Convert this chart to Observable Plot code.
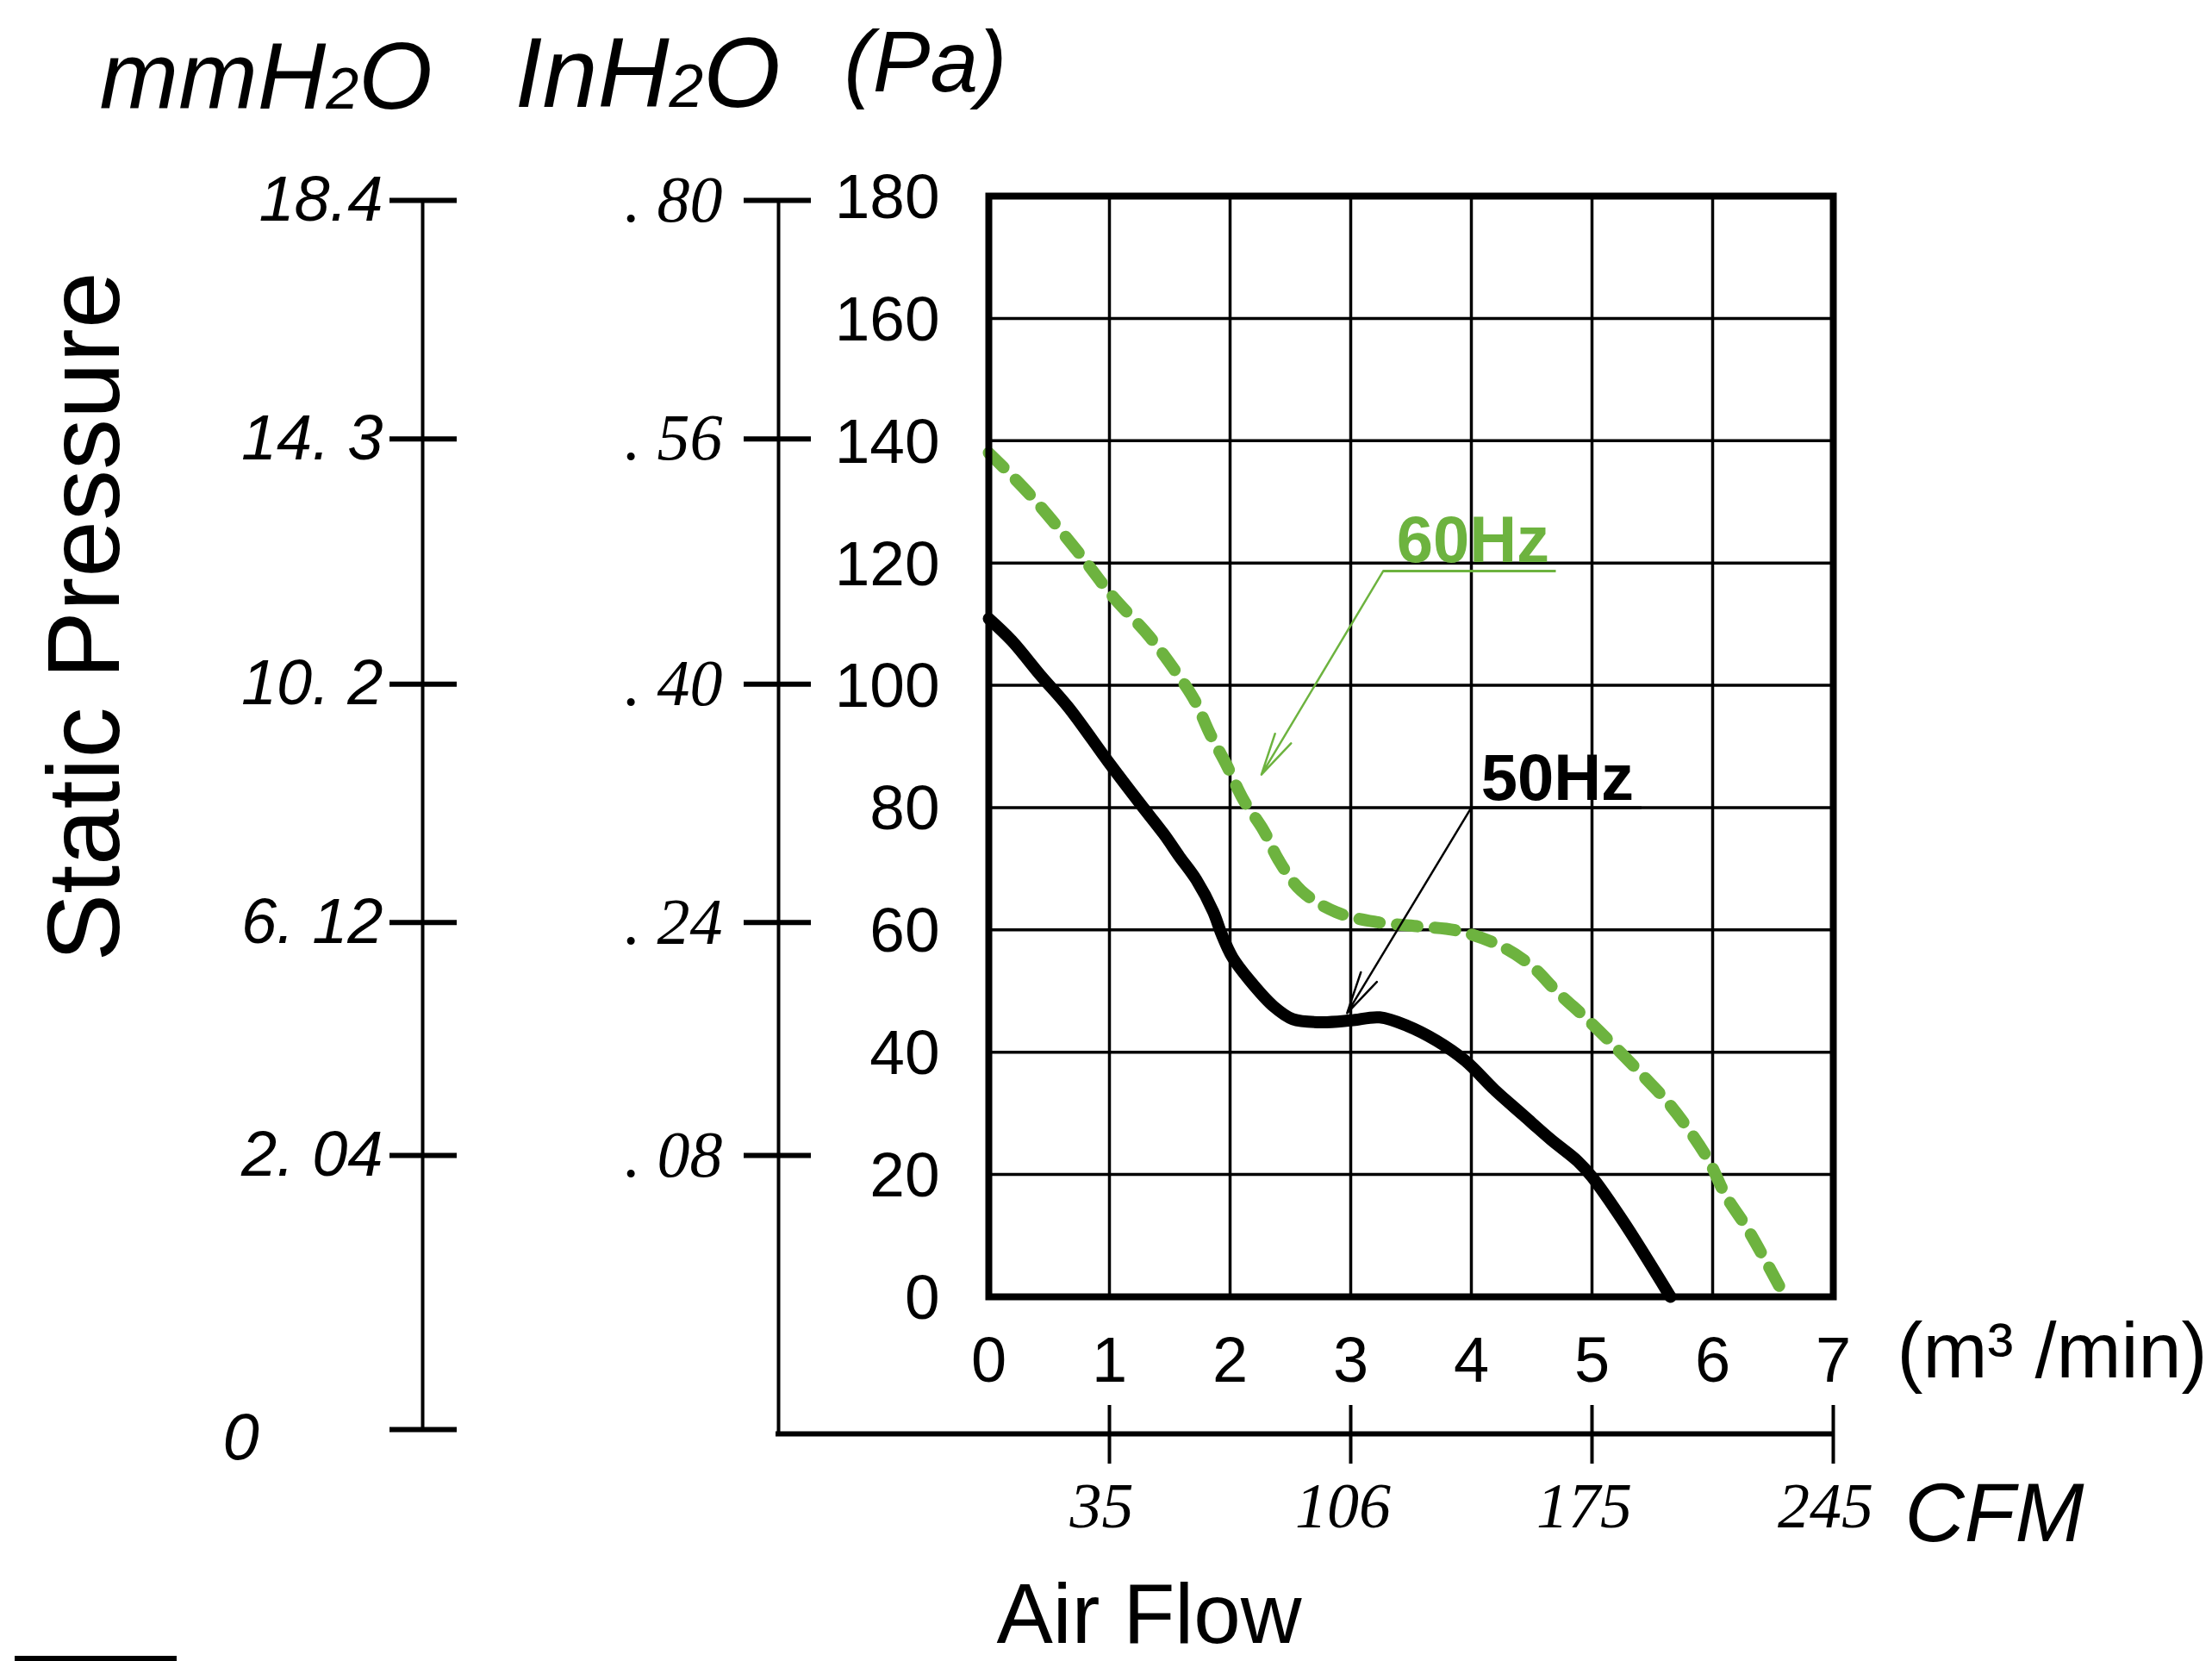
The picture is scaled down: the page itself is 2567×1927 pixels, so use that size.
<!DOCTYPE html>
<html>
<head>
<meta charset="utf-8">
<script src="https://cdn.jsdelivr.net/npm/d3@7"></script>
<script src="https://cdn.jsdelivr.net/npm/@observablehq/plot@0.6"></script>
<style>
  html, body { margin: 0; padding: 0; background: #fff; }
  #chart { position: relative; width: 2567px; height: 1927px; }
  #bar { position: absolute; left: 17px; top: 1921px; width: 188px; height: 6px; background: #000; }
</style>
</head>
<body>
<div id="chart"><div id="bar"></div></div>
<script>
// ---------- data ----------
// 50 Hz curve: air flow (m³/min) vs static pressure (Pa)
const flow50 = [0, 0.19, 0.43, 0.66, 0.99, 1.26, 1.45, 1.58, 1.72, 1.86, 1.93, 2.02, 2.16, 2.36, 2.52, 2.75, 3.0, 3.24, 3.47, 3.71, 3.95, 4.19, 4.43, 4.66, 4.88, 5.0, 5.26, 5.65];
const pressure50 = [110.9, 107.3, 101.6, 96.4, 87.5, 80.5, 75.7, 72.0, 68.2, 63.0, 59.3, 55.5, 51.8, 47.5, 45.4, 44.9, 45.2, 45.7, 44.3, 41.9, 38.6, 33.9, 29.7, 25.7, 22.2, 19.6, 12.3, 0];
// 60 Hz curve
const flow60 = [0, 0.33, 0.74, 1.02, 1.33, 1.54, 1.71, 1.83, 1.97, 2.11, 2.28, 2.40, 2.59, 2.88, 3.21, 3.55, 3.90, 4.24, 4.50, 4.71, 4.97, 5.21, 5.43, 5.62, 5.81, 5.97, 6.11, 6.28, 6.43, 6.60];
const pressure60 = [138.0, 131.4, 121.8, 114.7, 108.0, 102.5, 97.4, 92.2, 87.0, 81.3, 76.2, 71.5, 66.4, 62.9, 61.3, 60.6, 59.8, 57.4, 54.1, 49.9, 45.2, 40.5, 36.0, 32.0, 27.1, 22.2, 16.5, 11.4, 6.2, 0];

// main axes ticks
const paTicks = [0, 20, 40, 60, 80, 100, 120, 140, 160, 180];
const flowTicks = [0, 1, 2, 3, 4, 5, 6, 7];
// secondary pressure scales: Pa position each tick is drawn at (as read), and its label
const secondaryTickPa = [179.3, 140.3, 100.2, 61.2, 23.1];
const mmLabels = ["18.4", "14. 3", "10. 2", "6. 12", "2. 04"];
const inLabels = [". 80", ". 56", ". 40", ". 24", ". 08"];
const mmZeroPa = -21.7;   // where the mmH2O "0" tick sits
const axisBottomPa = -22.4; // where the lower CFM axis runs
// CFM scale: m³/min position and label
const cfmTickFlow = [1, 3, 5, 7];
const cfmLabels = ["35", "106", "175", "245"];
// callouts
const callouts = [
  {label: "60Hz", color: "#6db33f", tx: 3.38, ty: 120.2, x1: 3.27, y1: 118.7, x2: 2.26, y2: 85.4, ux2: 4.70},
  {label: "50Hz", color: "#000000", tx: 4.08, ty: 81.2, x1: 4.00, y1: 80.0, x2: 2.97, y2: 46.4, ux2: 5.41}
];

// ---------- layout ----------
const W = 2567, H = 1927;
const ML = 1147, MR = 440, MT = 227, MB = 423;
const GREEN = "#6db33f";
const SANS = "Liberation Sans, Arial, Helvetica, sans-serif";
const SERIF = "Liberation Serif, Times New Roman, serif";

const data50 = flow50.map((x, i) => ({x, y: pressure50[i]}));
const data60 = flow60.map((x, i) => ({x, y: pressure60[i]}));
const mmMap = new Map(secondaryTickPa.map((p, i) => [p, mmLabels[i]]));
const inMap = new Map(secondaryTickPa.map((p, i) => [p, inLabels[i]]));
const cfmMap = new Map(cfmTickFlow.map((f, i) => [f, cfmLabels[i]]));

// text placed at a pixel position (baseline) relative to the frame's top-left
function pxText(str, px, py, opts = {}) {
  return Plot.text([str], {
    text: d => d, frameAnchor: "top-left", dx: px - ML, dy: py - MT,
    lineAnchor: "bottom", textAnchor: "start", fill: "black", ...opts
  });
}

const plot = Plot.plot({
  width: W, height: H,
  marginLeft: ML, marginRight: MR, marginTop: MT, marginBottom: MB,
  style: {fontFamily: SANS, background: "white", color: "black", overflow: "visible"},
  x: {domain: [0, 7]},
  y: {domain: [0, 180]},
  marks: [
    // grid
    Plot.ruleX(flowTicks.slice(1, -1), {stroke: "black", strokeWidth: 3.5}),
    Plot.ruleY(paTicks.slice(1, -1), {stroke: "black", strokeWidth: 3.5}),
    // Pa axis labels
    Plot.axisY({ticks: paTicks, anchor: "left", tickSize: 0, tickPadding: 57, fontSize: 73, dy: 2, label: null}),
    // m³/min labels
    Plot.axisX({ticks: flowTicks, anchor: "bottom", tickSize: 0, tickPadding: 46, fontSize: 74,
      tickFormat: d => String(d), label: null}),
    // mmH2O axis
    Plot.ruleX([0], {y1: secondaryTickPa[0], y2: mmZeroPa, dx: 490 - ML, stroke: "black", strokeWidth: 4}),
    Plot.axisY(secondaryTickPa, {anchor: "left", tickSize: 78, dx: 530 - ML, tickPadding: 8,
      tickFormat: d => mmMap.get(d), fontStyle: "italic", fontSize: 74, strokeWidth: 6, label: null}),
    Plot.ruleY([mmZeroPa], {insetLeft: 452 - ML, insetRight: (W - MR) - 530, stroke: "black", strokeWidth: 6}),
    pxText("0", 258, 1692, {fontStyle: "italic", fontSize: 76}),
    // inH2O / Pa outer axis
    Plot.ruleX([0], {y1: secondaryTickPa[0], y2: axisBottomPa, dx: 903 - ML, stroke: "black", strokeWidth: 4}),
    Plot.axisY(secondaryTickPa, {anchor: "left", tickSize: 78, dx: 941 - ML, tickPadding: 25,
      tickFormat: d => inMap.get(d), fontFamily: SERIF, fontStyle: "italic", fontSize: 76, strokeWidth: 6, label: null}),
    Plot.ruleY([axisBottomPa], {insetLeft: 900 - ML, insetRight: 0, stroke: "black", strokeWidth: 6}),
    // CFM axis: ticks, then labels (set slightly left as in the original)
    Plot.axisX(cfmTickFlow, {anchor: "bottom", tickSize: 68, dy: 126, tickPadding: 21,
      tickFormat: () => "", strokeWidth: 4, label: null}),
    Plot.axisX(cfmTickFlow, {anchor: "bottom", tickSize: 0, dy: 126 + 68, dx: -9, tickPadding: 21,
      tickFormat: d => cfmMap.get(d), fontFamily: SERIF, fontStyle: "italic", fontSize: 74, label: null}),
    // curves
    Plot.line(data60, {x: "x", y: "y", curve: "catmull-rom", stroke: GREEN, strokeWidth: 14, strokeDasharray: "24,20"}),
    Plot.line(data50, {x: "x", y: "y", curve: "catmull-rom", stroke: "black", strokeWidth: 14}),
    // frame
    Plot.frame({stroke: "black", strokeWidth: 8}),
    // callouts
    Plot.link(callouts, {x1: "x1", y1: "y1", x2: "ux2", y2: "y1", stroke: "color", strokeWidth: 3}),
    Plot.arrow(callouts, {x1: "x1", y1: "y1", x2: "x2", y2: "y2", stroke: "color", strokeWidth: 2.5, headLength: 30, headAngle: 25, bend: 0}),
    Plot.text(callouts, {x: "tx", y: "ty", text: "label", fill: "color", fontWeight: "bold", fontSize: 76,
      textAnchor: "start", lineAnchor: "bottom"}),
    // titles and units
    pxText("mmH2O", 115, 125, {fontStyle: "italic", fontSize: 110}),
    pxText("InH2O", 597, 123, {fontStyle: "italic", fontSize: 115}),
    pxText("(Pa)", 979, 105, {fontStyle: "italic", fontSize: 100}),
    pxText("Static Pressure", 137, 715, {rotate: -90, textAnchor: "middle", fontSize: 118}),
    pxText("(m³ /min)", 2201, 1597, {fontSize: 90}),
    pxText("CFM", 2210, 1787, {fontStyle: "italic", fontSize: 96}),
    pxText("Air Flow", 1156, 1905, {fontSize: 98})
  ]
});

// render the "2" of H2O smaller, on the baseline, as in the original
d3.select(plot).selectAll("text").each(function () {
  const t = this.textContent;
  if (t === "mmH2O" || t === "InH2O") {
    const sel = d3.select(this);
    sel.text(null);
    const [a, b] = t.split("2");
    sel.append("tspan").text(a);
    sel.append("tspan").attr("font-size", "62%").text("2");
    sel.append("tspan").text(b);
  }
});

document.getElementById("chart").prepend(plot);
</script>
</body>
</html>
